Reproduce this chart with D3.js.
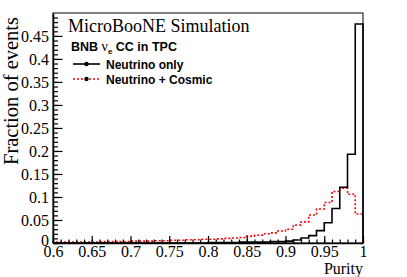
<!DOCTYPE html>
<html>
<head>
<meta charset="utf-8">
<script src="https://cdn.jsdelivr.net/npm/d3@7"></script>
<style>
  body { margin: 0; background: #fff; }
  svg { display: block; }
</style>
</head>
<body>
<div id="chart"></div>
<script>
// bin lower edges, width 0.01
const binEdges = d3.range(40).map(i => +(0.6 + i * 0.01).toFixed(2));
const binWidth = 0.01;

const neutrinoOnly = [
    0, 0, 0, 0, 0, 0, 0, 0, 0, 0,
    0, 0, 0, 0, 0, 0, 0, 0, 0, 0,
    0.001, 0.001, 0.001, 0.001, 0.002, 0.002, 0.002, 0.002, 0.003, 0.003,
    0.004, 0.0065, 0.011, 0.016, 0.027, 0.044, 0.075, 0.121, 0.193, 0.476
];

const neutrinoCosmic = [
    0.002, 0.002, 0.002, 0.002, 0.002, 0.002, 0.003, 0.003, 0.003, 0.003,
    0.004, 0.004, 0.004, 0.005, 0.005, 0.006, 0.006, 0.007, 0.007, 0.008,
    0.008, 0.009, 0.010, 0.011, 0.012, 0.015, 0.017, 0.020, 0.022, 0.026,
    0.030, 0.039, 0.046, 0.061, 0.074, 0.088, 0.112, 0.119, 0.106, 0.063
];

const xTicks = [0.6, 0.65, 0.7, 0.75, 0.8, 0.85, 0.9, 0.95, 1];
const yTicks = [0, 0.05, 0.1, 0.15, 0.2, 0.25, 0.3, 0.35, 0.4, 0.45];
const xMinor = d3.range(0, 41).map(i => +(0.6 + i * 0.01).toFixed(2));
const yMinor = d3.range(0, 50).map(i => +(i * 0.01).toFixed(2));

const width = 407, height = 277;
const margin = { top: 13, right: 44, bottom: 34, left: 53 };
const plotW = width - margin.left - margin.right;
const plotH = height - margin.top - margin.bottom;

const serif = "'Liberation Serif', 'Times New Roman', serif";
const sans = "'Liberation Sans', Arial, sans-serif";
const fmt = v => String(+v.toFixed(2));

const svg = d3.select("#chart")
    .append("svg")
    .attr("width", width)
    .attr("height", height);

svg.append("rect").attr("width", width).attr("height", height).attr("fill", "#fff");

const g = svg.append("g")
    .attr("transform", `translate(${margin.left}, ${margin.top})`);

const x = d3.scaleLinear().domain([0.6, 1]).range([0, plotW]);
const y = d3.scaleLinear().domain([0, 0.4998]).range([plotH, 0]);

// step outline of a histogram
const histPoints = (vals) => {
    const pts = [[x(binEdges[0]), y(0)]];
    vals.forEach((v, i) => {
        pts.push([x(binEdges[i]), y(v)]);
        pts.push([x(binEdges[i] + binWidth), y(v)]);
    });
    pts.push([x(1), y(0)]);
    return pts;
};

const line = d3.line();

g.append("path")
    .attr("d", line(histPoints(neutrinoCosmic)))
    .attr("fill", "none")
    .attr("stroke", "#ff0000")
    .attr("stroke-width", 1.6)
    .attr("stroke-dasharray", "2,2");

g.append("path")
    .attr("d", line(histPoints(neutrinoOnly)))
    .attr("fill", "none")
    .attr("stroke", "#000")
    .attr("stroke-width", 1.6);

// frame
g.append("rect")
    .attr("width", plotW)
    .attr("height", plotH)
    .attr("fill", "none")
    .attr("stroke", "#000")
    .attr("stroke-width", 1);

// y axis
const yAxis = g.append("g")
    .call(d3.axisLeft(y).tickValues(yTicks).tickFormat(fmt)
        .tickSizeInner(-9.5).tickSizeOuter(0).tickPadding(4));
yAxis.select(".domain").attr("stroke-width", 1.5);
yAxis.selectAll("line").attr("stroke-width", 1.2);
yAxis.selectAll("text")
    .style("font-family", serif)
    .style("font-size", "16px")
    .attr("fill", "#000")
    .attr("dy", d => d === 0 ? "0.15em" : "0.32em");

g.append("g")
    .call(d3.axisLeft(y).tickValues(yMinor).tickFormat("")
        .tickSizeInner(-5).tickSizeOuter(0))
    .call(a => a.select(".domain").remove())
    .selectAll("line").attr("stroke-width", 1.2);

// x axis
const xAxis = g.append("g")
    .attr("transform", `translate(0, ${plotH})`)
    .call(d3.axisBottom(x).tickValues(xTicks).tickFormat(fmt)
        .tickSizeInner(-7).tickSizeOuter(0).tickPadding(3));
xAxis.select(".domain").attr("stroke-width", 1.5);
xAxis.selectAll("line").attr("stroke-width", 1.2);
xAxis.selectAll("text")
    .style("font-family", serif)
    .style("font-size", "16px")
    .attr("fill", "#000");

g.append("g")
    .attr("transform", `translate(0, ${plotH})`)
    .call(d3.axisBottom(x).tickValues(xMinor).tickFormat("")
        .tickSizeInner(-3.5).tickSizeOuter(0))
    .call(a => a.select(".domain").remove())
    .selectAll("line").attr("stroke-width", 1.2);

// axis titles
svg.append("text")
    .attr("x", margin.left + plotW)
    .attr("y", 274)
    .attr("text-anchor", "end")
    .style("font-family", serif)
    .style("font-size", "16px")
    .text("Purity");

svg.append("text")
    .attr("transform", `translate(18, ${margin.top + 4}) rotate(-90)`)
    .attr("text-anchor", "end")
    .style("font-family", serif)
    .style("font-size", "20.5px")
    .text("Fraction of events");

// labels and legend
svg.append("text")
    .attr("x", 68)
    .attr("y", 32)
    .style("font-family", serif)
    .style("font-size", "18px")
    .text("MicroBooNE Simulation");

const head = svg.append("text")
    .attr("x", 71)
    .attr("y", 51)
    .style("font-family", sans)
    .style("font-weight", "bold")
    .style("font-size", "12.5px");
head.append("tspan").text("BNB ");
head.append("tspan").style("font-weight", "normal").style("font-family", serif).style("font-size", "14px").text("ν");
head.append("tspan").attr("dy", 3).style("font-size", "8px").text("e");
head.append("tspan").attr("dy", -3).text(" CC in TPC");

const legendItems = [
    { label: "Neutrino only", color: "#000", dash: null, yPos: 64 },
    { label: "Neutrino + Cosmic", color: "#ff0000", dash: "2,2", yPos: 79 }
];

legendItems.forEach(item => {
    svg.append("line")
        .attr("x1", 73).attr("x2", 100)
        .attr("y1", item.yPos).attr("y2", item.yPos)
        .attr("stroke", item.color)
        .attr("stroke-width", 1.6)
        .attr("stroke-dasharray", item.dash);
    svg.append("circle")
        .attr("cx", 86.5).attr("cy", item.yPos)
        .attr("r", 2.2)
        .attr("fill", "#000");
    svg.append("text")
        .attr("x", 106)
        .attr("y", item.yPos + 4.5)
        .style("font-family", sans)
        .style("font-weight", "bold")
        .style("font-size", "12px")
        .text(item.label);
});
</script>
</body>
</html>
